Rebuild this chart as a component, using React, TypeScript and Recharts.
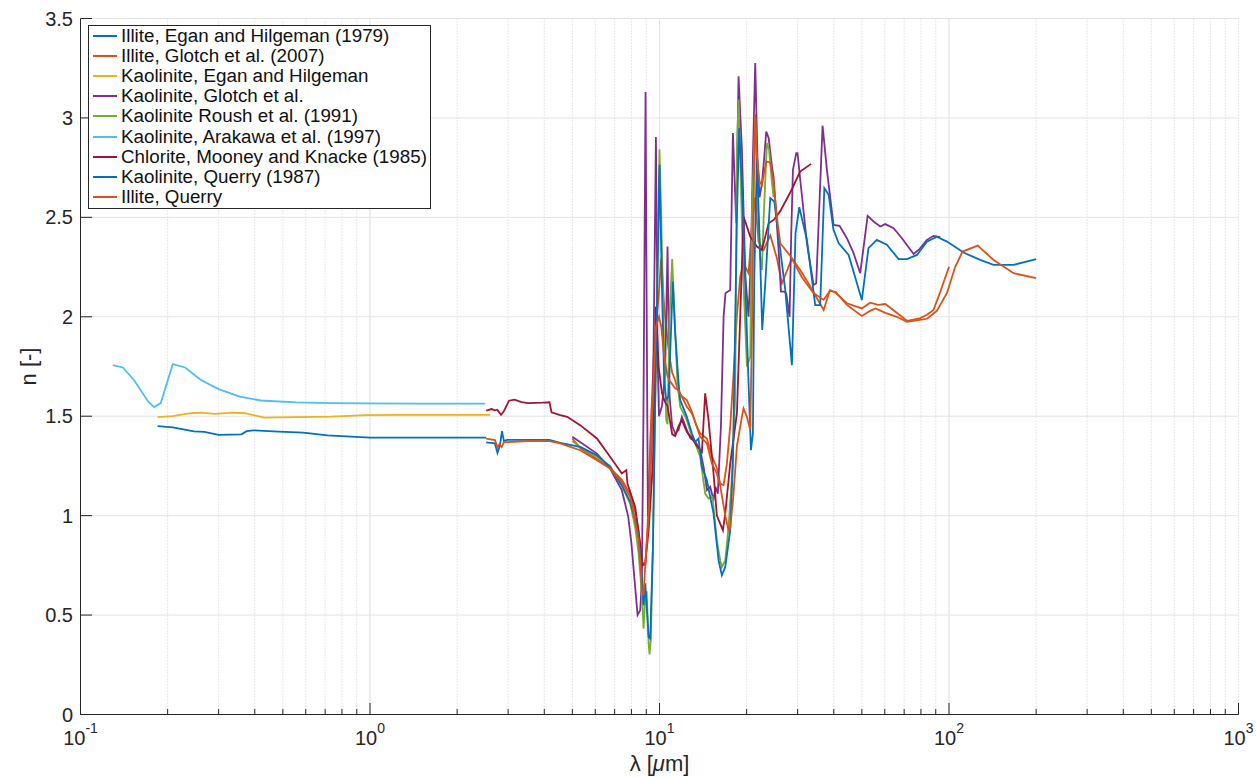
import React from 'react';
import { LineChart, Line, XAxis, YAxis, CartesianGrid, ReferenceLine } from 'recharts';

const FONT = '"Liberation Sans", Arial, Helvetica, sans-serif';
const INK = '#262626';

// log axis: decades carry labels, 2..9 multiples get minor ticks and dotted grid
const decades = [0.1, 1, 10, 100, 1000];
const decadeExponents = ['-1', '0', '1', '2', '3'];
const minorMultipliers = [2, 3, 4, 5, 6, 7, 8, 9];
const minorTicks = decades.slice(0, -1).flatMap((d) => minorMultipliers.map((m) => m * d));
const xTicks = [...decades, ...minorTicks].sort((a, b) => a - b);
const yTicks = [0, 0.5, 1, 1.5, 2, 2.5, 3, 3.5];

// [wavelength in um, refractive index n]
const illiteEgan = [
  [0.1846, 1.45], [0.2083, 1.444], [0.2466, 1.424], [0.268, 1.421], [0.2998, 1.406],
  [0.3597, 1.409], [0.375, 1.425], [0.3967, 1.429], [0.483, 1.422], [0.5875, 1.417],
  [0.714, 1.404], [1.0, 1.392], [2.52, 1.392],
];

const illiteGlotch = [
  [5.0, 1.388], [5.32, 1.34], [6.08, 1.285], [6.75, 1.24], [7.41, 1.18], [7.92, 1.11],
  [8.24, 1.02], [8.47, 0.92], [8.58, 0.82], [8.69, 0.74], [8.81, 0.76], [8.93, 0.75],
  [9.1, 0.95], [9.3, 1.4], [9.55, 1.8], [9.79, 2.0], [9.93, 2.1], [10.14, 2.294],
  [10.38, 2.05], [10.66, 1.88], [10.83, 1.8], [11.06, 1.72], [11.33, 1.68], [11.64, 1.62],
  [11.95, 1.6], [12.43, 1.581], [12.94, 1.522], [13.46, 1.447], [13.82, 1.413],
  [14.58, 1.388], [15.17, 1.3], [15.37, 1.279], [15.78, 1.24], [16.21, 1.161],
  [16.65, 1.153], [17.09, 1.262], [17.55, 1.45], [18.0, 1.7], [18.5, 2.0], [19.0, 2.2],
  [19.51, 2.27], [20.31, 2.219], [20.85, 2.45], [21.41, 2.6], [21.99, 2.378],
  [22.88, 2.336], [24.13, 2.41], [25.45, 2.294], [26.48, 2.168], [28.67, 2.294],
  [30.63, 2.235], [33.18, 2.152], [36.9, 2.034], [38.8, 2.135], [40.6, 2.12],
  [44.4, 2.068], [50, 2.042], [53.4, 2.071], [57, 2.06], [60.3, 2.064], [66, 2.02],
  [71.6, 1.98], [79.2, 1.992], [84, 2.01], [88.4, 2.034], [93, 2.12], [100, 2.252],
];

const kaoliniteEgan = [
  [0.1846, 1.495], [0.2083, 1.5], [0.2399, 1.515], [0.2607, 1.518], [0.2917, 1.512],
  [0.3355, 1.518], [0.37, 1.515], [0.4027, 1.503], [0.4315, 1.493], [0.5553, 1.495],
  [0.735, 1.498], [0.9727, 1.505], [1.286, 1.507], [2.6, 1.507],
];

const kaoliniteGlotch = [
  [5.0, 1.397], [6.08, 1.312], [6.75, 1.237], [7.41, 1.128], [7.8, 0.994], [8.0, 0.859],
  [8.24, 0.641], [8.4, 0.5], [8.58, 0.524], [8.69, 0.675], [8.8, 1.5], [8.95, 3.13],
  [9.05, 1.8], [9.12, 1.0], [9.3, 1.2], [9.5, 1.6], [9.72, 2.904], [9.85, 1.8],
  [9.96, 1.5], [10.19, 1.55], [10.45, 1.7], [10.66, 2.353], [10.83, 1.6], [11.06, 1.45],
  [11.33, 1.413], [11.64, 1.43], [11.95, 1.497], [12.43, 1.43], [12.8, 1.388],
  [13.29, 1.371], [13.64, 1.346], [13.82, 1.329], [14.2, 1.245], [14.58, 1.128],
  [14.97, 1.145], [15.37, 1.077], [15.6, 1.145], [15.9, 1.11], [16.3, 1.45], [16.65, 2.0],
  [16.9, 2.118], [17.55, 2.135], [17.93, 2.924], [18.41, 2.47], [18.75, 3.209],
  [19.26, 2.84], [19.8, 2.2], [20.3, 2.0], [20.7, 2.3], [21.02, 2.8], [21.41, 3.276],
  [21.8, 2.8], [22.16, 2.6], [22.58, 2.67], [23.0, 2.8], [23.37, 2.932], [23.82, 2.9],
  [24.46, 2.756], [24.79, 2.7], [25.79, 2.336], [26.27, 2.127], [26.98, 2.127],
  [27.4, 2.118], [28.14, 2.0], [28.5, 2.4], [28.9, 2.739], [29.67, 2.823], [29.98, 2.823],
  [30.63, 2.689], [32.3, 2.37], [34.06, 2.16], [34.78, 2.169], [36.58, 2.961],
  [37.87, 2.739], [39.9, 2.462], [41.88, 2.457], [44.39, 2.395], [46.81, 2.32],
  [49.36, 2.219], [52.34, 2.507], [54.89, 2.479], [57.88, 2.454], [60.23, 2.466],
  [64.36, 2.445], [68.78, 2.395], [75.45, 2.316], [78.52, 2.336], [83.9, 2.387],
  [88.46, 2.407], [93.3, 2.4],
];

const kaoliniteRoush = [
  [5.0, 1.375], [5.32, 1.345], [6.08, 1.296], [6.75, 1.25], [7.41, 1.15], [7.92, 1.06],
  [8.24, 0.943], [8.47, 0.809], [8.69, 0.607], [8.81, 0.431], [8.93, 0.591], [9.03, 0.62],
  [9.17, 0.356], [9.24, 0.302], [9.33, 0.373], [9.49, 0.842], [9.67, 1.6], [10.0, 2.843],
  [10.14, 2.504], [10.38, 1.833], [10.55, 1.48], [10.66, 1.46], [10.83, 2.0], [11.06, 2.29],
  [11.27, 2.0], [11.54, 1.665], [11.79, 1.548], [12.43, 1.48], [12.94, 1.397],
  [13.29, 1.363], [13.82, 1.296], [14.38, 1.111], [14.77, 1.086], [15.25, 1.094],
  [15.78, 0.876], [16.21, 0.775], [16.42, 0.742], [16.87, 0.775], [17.32, 0.943],
  [17.75, 1.178], [18.26, 1.6], [18.51, 2.84], [18.75, 3.092], [19.1, 2.672],
  [19.51, 2.168], [20.04, 1.75], [20.58, 1.8], [20.85, 2.504], [21.41, 2.99], [21.8, 2.588],
  [22.28, 2.3], [22.58, 2.236], [22.9, 2.5], [23.5, 2.874], [23.9, 2.84], [24.46, 2.672],
  [24.79, 2.6],
];

const kaoliniteArakawa = [
  [0.1294, 1.757], [0.14, 1.745], [0.153, 1.682], [0.1712, 1.574], [0.1795, 1.546],
  [0.1893, 1.566], [0.2083, 1.762], [0.2298, 1.745], [0.2607, 1.682], [0.2998, 1.636],
  [0.3548, 1.599], [0.4198, 1.579], [0.5553, 1.57], [0.735, 1.566], [0.9727, 1.565],
  [1.479, 1.563], [2.5, 1.563],
];

const chloriteMooney = [
  [2.52, 1.528], [2.63, 1.536], [2.7, 1.53], [2.75, 1.533], [2.835, 1.507], [2.9, 1.525],
  [3.02, 1.578], [3.155, 1.583], [3.337, 1.571], [3.52, 1.566], [3.945, 1.568], [4.17, 1.57],
  [4.235, 1.52], [4.54, 1.506], [4.8, 1.497], [5.32, 1.455], [6.08, 1.388], [6.75, 1.296],
  [7.41, 1.212], [7.68, 1.229], [7.75, 1.161], [8.24, 1.044], [8.58, 0.859], [8.69, 0.75],
  [8.93, 0.759], [9.17, 0.926], [9.49, 1.262], [9.72, 2.051], [9.93, 1.75], [10.19, 1.62],
  [10.38, 1.58], [10.66, 1.55], [11.06, 1.41], [11.33, 1.4], [11.64, 1.45], [11.95, 1.48],
  [12.43, 1.42], [12.94, 1.39], [13.46, 1.35], [14.01, 1.32], [14.38, 1.615], [14.77, 1.48],
  [15.37, 1.212], [15.78, 1.0], [16.56, 0.926], [16.87, 1.01], [17.55, 1.262],
  [18.51, 1.514], [19.0, 2.0], [19.51, 2.504], [20.58, 2.403], [21.7, 2.353],
  [22.58, 2.336], [23.19, 2.403], [23.82, 2.47], [24.79, 2.487], [26.1, 2.53],
  [28.4, 2.63], [30.6, 2.73], [33.4, 2.769],
];

const kaoliniteQuerry = [
  [2.52, 1.368], [2.7, 1.364], [2.756, 1.315], [2.81, 1.351], [2.857, 1.425], [2.9, 1.376],
  [2.98, 1.381], [3.43, 1.381], [4.17, 1.381], [4.54, 1.366], [5.32, 1.346], [6.08, 1.304],
  [6.75, 1.245], [7.41, 1.153], [7.92, 1.069], [8.24, 0.977], [8.47, 0.893], [8.69, 0.7],
  [8.81, 0.55], [8.93, 0.66], [9.17, 0.39], [9.29, 0.381], [9.49, 0.842], [9.67, 1.6],
  [10.0, 2.764], [10.19, 2.168], [10.38, 1.665], [10.55, 1.581], [10.75, 1.6],
  [11.12, 2.177], [11.33, 1.917], [11.64, 1.665], [11.79, 1.581], [12.43, 1.497],
  [12.94, 1.413], [13.29, 1.371], [13.64, 1.388], [14.01, 1.245], [14.58, 1.178],
  [15.37, 1.01], [16.0, 0.775], [16.42, 0.7], [16.87, 0.742], [17.55, 0.926],
  [17.93, 1.262], [18.51, 2.504], [18.85, 2.949], [19.26, 2.672], [19.78, 2.168],
  [20.31, 1.665], [20.69, 1.329], [21.02, 1.413], [21.25, 2.2], [21.7, 2.798], [22.16, 2.4],
  [22.64, 1.934], [23.19, 2.168], [24.13, 2.597], [24.92, 2.58], [26.13, 2.336],
  [27.19, 2.135], [28.67, 1.757], [29.5, 2.42], [30.4, 2.551], [32.3, 2.387], [34.5, 2.059],
  [35.9, 2.059], [37.1, 2.647], [38.4, 2.613], [39.9, 2.437], [41.6, 2.37], [45.0, 2.311],
  [50.0, 2.085], [52.7, 2.345], [56.3, 2.387], [61.0, 2.362], [67.0, 2.29], [71.6, 2.29],
  [77.5, 2.311], [83.9, 2.378], [90.8, 2.403], [98.4, 2.378], [112.3, 2.323],
  [128.2, 2.286], [142.6, 2.261], [167.2, 2.261], [200, 2.29],
];

const illiteQuerry = [
  [2.52, 1.387], [2.7, 1.38], [2.76, 1.343], [2.8, 1.36], [2.85, 1.345], [2.9, 1.37],
  [3.0, 1.37], [3.5, 1.375], [4.17, 1.375], [4.54, 1.363], [5.32, 1.329], [6.08, 1.279],
  [6.75, 1.237], [7.41, 1.17], [7.92, 1.094], [8.24, 0.977], [8.47, 0.876], [8.58, 0.775],
  [8.69, 0.62], [8.81, 0.6], [8.93, 0.75], [9.17, 1.0], [9.49, 1.6], [9.72, 1.95],
  [9.96, 2.0], [10.14, 1.95], [10.38, 1.8], [10.66, 1.7], [10.83, 1.68], [11.33, 1.64],
  [11.64, 1.631], [12.43, 1.548], [12.94, 1.514], [13.46, 1.447], [13.82, 1.397],
  [14.58, 1.363], [15.17, 1.262], [15.78, 1.212], [16.21, 1.15], [16.87, 1.0],
  [17.32, 0.926], [17.55, 0.94], [18.0, 1.1], [18.51, 1.35], [19.26, 1.497], [19.51, 1.539],
  [20.04, 1.497], [20.58, 1.43], [20.85, 1.9], [21.25, 2.8], [21.41, 3.02], [21.7, 2.81],
  [22.16, 2.68], [22.58, 2.663], [23.37, 2.78], [24.13, 2.776], [24.79, 2.672],
  [25.45, 2.5], [26.13, 2.37], [28.4, 2.303], [31, 2.2], [34, 2.12], [36.9, 2.085],
  [38.8, 2.13], [40.6, 2.126], [44.4, 2.06], [50, 2.004], [53.4, 2.03], [55.7, 2.042],
  [60.3, 2.02], [66, 2.0], [71.6, 1.975], [79.2, 1.984], [84, 1.99], [90.8, 2.03],
  [98.4, 2.12], [105, 2.25], [111.4, 2.328], [125.6, 2.358], [142.6, 2.286],
  [167.2, 2.219], [200, 2.194],
];

const series = [
  { name: 'Illite, Egan and Hilgeman (1979)', color: '#0072BD', points: illiteEgan },
  { name: 'Illite, Glotch et al. (2007)', color: '#D95319', points: illiteGlotch },
  { name: 'Kaolinite, Egan and Hilgeman', color: '#EDB120', points: kaoliniteEgan },
  { name: 'Kaolinite, Glotch et al.', color: '#7E2F8E', points: kaoliniteGlotch },
  { name: 'Kaolinite Roush et al. (1991)', color: '#77AC30', points: kaoliniteRoush },
  { name: 'Kaolinite, Arakawa et al. (1997)', color: '#4DBEEE', points: kaoliniteArakawa },
  { name: 'Chlorite, Mooney and Knacke (1985)', color: '#A2142F', points: chloriteMooney },
  { name: 'Kaolinite, Querry (1987)', color: '#0072BD', points: kaoliniteQuerry },
  { name: 'Illite, Querry', color: '#D95319', points: illiteQuerry },
];

const toRows = (pts: number[][]) => pts.map(([x, y]) => ({ x, y }));

const decadeIndex = (v: number) => decades.findIndex((d) => Math.abs(v / d - 1) < 1e-9);

const MAJOR_TICK = 11.5;
const MINOR_TICK = 5.5;

function BottomTick({ x, y, payload }: any) {
  const i = decadeIndex(payload.value);
  return (
    <g>
      <line x1={x} x2={x} y1={y} y2={y - (i >= 0 ? MAJOR_TICK : MINOR_TICK)} stroke={INK} />
      {i >= 0 && (
        <text x={x} y={y + 30.5} textAnchor="middle" fontFamily={FONT} fontSize={20} fill={INK}>
          10<tspan dy={-12} fontSize={14}>{decadeExponents[i]}</tspan>
        </text>
      )}
    </g>
  );
}

function TopTick({ x, y, payload }: any) {
  const i = decadeIndex(payload.value);
  return <line x1={x} x2={x} y1={y} y2={y + (i >= 0 ? MAJOR_TICK : MINOR_TICK)} stroke={INK} />;
}

function LeftTick({ x, y, payload }: any) {
  return (
    <g>
      <line x1={x} x2={x + MAJOR_TICK} y1={y} y2={y} stroke={INK} />
      <text x={x - 7.5} y={y + 7} textAnchor="end" fontFamily={FONT} fontSize={20} fill={INK}>
        {payload.value}
      </text>
    </g>
  );
}

function RightTick({ x, y }: any) {
  return <line x1={x} x2={x - MAJOR_TICK} y1={y} y2={y} stroke={INK} />;
}

const xTitle = (props: any) => {
  const vb = props.viewBox;
  return (
    <text x={vb.x + vb.width / 2} y={vb.y + 56} textAnchor="middle" fontFamily={FONT} fontSize={22} fill={INK}>
      λ [<tspan fontStyle="italic">μ</tspan>m]
    </text>
  );
};

const yTitle = (props: any) => {
  const vb = props.viewBox;
  const cx = vb.x + 28;
  const cy = vb.y + vb.height / 2;
  return (
    <text x={cx} y={cy} transform={`rotate(-90 ${cx} ${cy})`} textAnchor="middle" dy={7} fontFamily={FONT} fontSize={22} fill={INK}>
      n [-]
    </text>
  );
};

function LegendBox() {
  return (
    <div
      style={{
        position: 'absolute',
        left: 88,
        top: 25,
        width: 343,
        height: 184,
        boxSizing: 'border-box',
        border: `1px solid ${INK}`,
        background: '#fff',
        fontFamily: FONT,
        fontSize: 18.8,
        color: '#111',
      }}
    >
      {series.map((s) => (
        <div key={s.name} style={{ height: 20.1, display: 'flex', alignItems: 'center', whiteSpace: 'nowrap' }}>
          <span style={{ display: 'inline-block', width: 24, height: 2, background: s.color, marginLeft: 4, marginRight: 4 }} />
          {s.name}
        </div>
      ))}
    </div>
  );
}

export default function App() {
  return (
    <div style={{ position: 'absolute', left: 0, top: 0, width: 1257, height: 777, background: '#fff' }}>
      <LineChart width={1257} height={777} margin={{ top: 18.5, right: 18.5, bottom: 0, left: 0.5 }}>
        <CartesianGrid horizontal={false} stroke="#cfcfcf" strokeDasharray="1 2" />
        <CartesianGrid vertical={false} stroke="#e3e3e3" />
        {decades.slice(1, -1).map((d) => (
          <ReferenceLine key={d} x={d} stroke="#e3e3e3" />
        ))}
        <XAxis
          dataKey="x"
          type="number"
          scale="log"
          domain={[0.1, 1000]}
          ticks={xTicks}
          interval={0}
          allowDataOverflow
          height={62.5}
          tickSize={0}
          tickMargin={0}
          tick={<BottomTick />}
          axisLine={{ stroke: INK }}
          label={xTitle}
        />
        <XAxis
          xAxisId="top"
          orientation="top"
          dataKey="x"
          type="number"
          scale="log"
          domain={[0.1, 1000]}
          ticks={xTicks}
          interval={0}
          allowDataOverflow
          height={0}
          tickSize={0}
          tickMargin={0}
          tick={<TopTick />}
          axisLine={{ stroke: INK }}
        />
        <YAxis
          type="number"
          domain={[0, 3.5]}
          ticks={yTicks}
          interval={0}
          allowDataOverflow
          width={80}
          tickSize={0}
          tickMargin={0}
          tick={<LeftTick />}
          axisLine={{ stroke: INK }}
          label={yTitle}
        />
        <YAxis
          yAxisId="right"
          orientation="right"
          type="number"
          domain={[0, 3.5]}
          ticks={yTicks}
          interval={0}
          allowDataOverflow
          width={0}
          tickSize={0}
          tickMargin={0}
          tick={<RightTick />}
          axisLine={{ stroke: INK }}
        />
        {series.map((s) => (
          <Line
            key={s.name}
            data={toRows(s.points)}
            dataKey="y"
            type="linear"
            stroke={s.color}
            strokeWidth={1.8}
            dot={false}
            activeDot={false}
            isAnimationActive={false}
          />
        ))}
      </LineChart>
      <LegendBox />
    </div>
  );
}
